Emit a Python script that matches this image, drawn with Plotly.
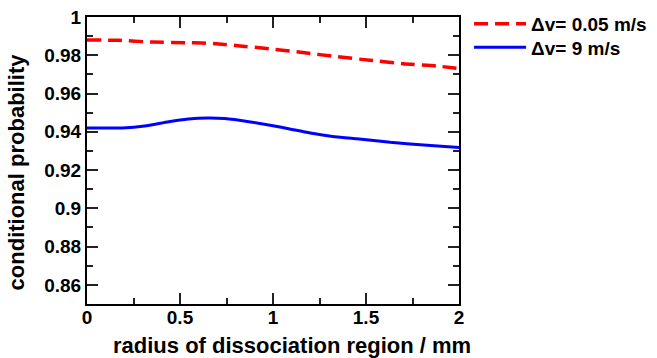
import plotly.graph_objects as go

# Data
r_slow = [0, 0.17, 0.35, 0.53, 0.62, 0.71, 0.81, 0.99, 1.16, 1.34, 1.52, 1.70, 1.88, 2.0]
p_slow = [0.988, 0.9878, 0.9869, 0.9866, 0.9864, 0.9859, 0.985, 0.9833, 0.9814, 0.9793, 0.9774, 0.9756, 0.9744, 0.973]

r_fast = [0, 0.19, 0.31, 0.44, 0.545, 0.65, 0.74, 0.87, 1.0, 1.09, 1.2, 1.32, 1.45, 1.63, 1.81, 2.0]
p_fast = [0.942, 0.942, 0.943, 0.9453, 0.9467, 0.9472, 0.9469, 0.9453, 0.9432, 0.9415, 0.9394, 0.9376, 0.9364, 0.9345, 0.9331, 0.9318]

series_names = ["\u0394v= 0.05 m/s", "\u0394v= 9 m/s"]
x_tickvals = [0, 0.5, 1, 1.5, 2]
x_ticktext = ["0", "0.5", "1", "1.5", "2"]
y_tickvals = [0.86, 0.88, 0.9, 0.92, 0.94, 0.96, 0.98, 1.0]
y_ticktext = ["0.86", "0.88", "0.9", "0.92", "0.94", "0.96", "0.98", "1"]

FONT = "Liberation Sans, Arial, sans-serif"
LEG_FONT = dict(family=FONT, size=19, color="#000", weight="bold")

fig = go.Figure()
fig.add_trace(go.Scatter(x=r_slow, y=p_slow, mode="lines", name=series_names[0], legend="legend",
                         line=dict(color="#ff0000", width=3.5, dash="14px,7px", shape="spline", smoothing=0.6)))
fig.add_trace(go.Scatter(x=r_fast, y=p_fast, mode="lines", name=series_names[1], legend="legend2",
                         line=dict(color="#0000ff", width=3, shape="spline", smoothing=0.6)))

axis_common = dict(
    showgrid=False, zeroline=False, showline=True, linecolor="#000", linewidth=2,
    mirror="ticks", ticks="inside", tickcolor="#222", tickwidth=1.5, ticklen=11,
    tickfont=dict(family=FONT, size=19, color="#000", weight="bold"),
)

leg_common = dict(x=1.027, xanchor="left", yanchor="middle", font=LEG_FONT,
                  bgcolor="rgba(0,0,0,0)", borderwidth=0, itemwidth=52)

fig.update_layout(
    width=657, height=358,
    margin=dict(l=87, r=198, t=17, b=54, autoexpand=False),
    paper_bgcolor="white", plot_bgcolor="white",
    showlegend=True,
    legend=dict(y=0.976, **leg_common),
    legend2=dict(y=0.894, **leg_common),
    xaxis=dict(range=[0, 2], tickvals=x_tickvals, ticktext=x_ticktext, ticklabelstandoff=-5,
               minor=dict(dtick=0.25, ticks="inside", ticklen=6, tickcolor="#222", tickwidth=1.5),
               **axis_common),
    yaxis=dict(range=[0.85, 1.0], tickvals=y_tickvals, ticktext=y_ticktext,
               minor=dict(dtick=0.01, tick0=0.85, ticks="inside", ticklen=6, tickcolor="#222", tickwidth=1.5),
               **axis_common),
    annotations=[
        dict(text="radius of dissociation region / mm", xref="paper", yref="paper",
             x=0.551, y=-0.143, xanchor="center", yanchor="middle", showarrow=False,
             font=dict(family=FONT, size=22, color="#000", weight="bold")),
        dict(text="conditional probability", xref="paper", yref="paper",
             x=-0.187, y=0.46, xanchor="center", yanchor="middle", textangle=-90, showarrow=False,
             font=dict(family=FONT, size=22, color="#000", weight="bold")),
    ],
)

fig.write_html("out.html", config={"displayModeBar": False},
               post_script="document.body.style.margin='0';document.body.style.overflow='hidden';")
